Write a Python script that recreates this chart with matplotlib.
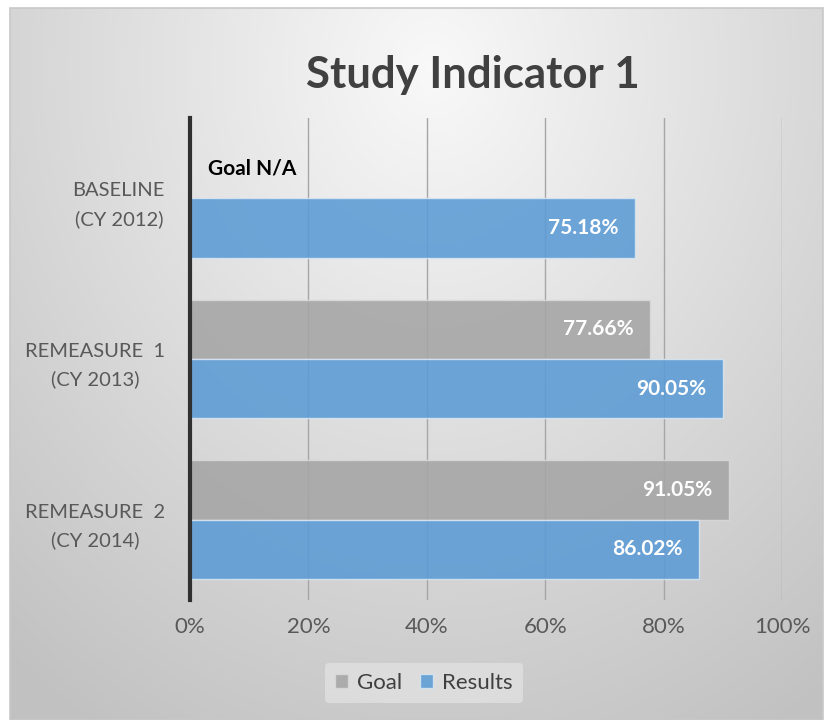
import numpy as np
import matplotlib.pyplot as plt
from matplotlib.patches import Rectangle

plt.rcParams['font.family'] = ['Lato', 'DejaVu Sans']

categories = ['BASELINE\n(CY 2012)', 'REMEASURE  1\n(CY 2013)', 'REMEASURE  2\n(CY 2014)']
goal = [np.nan, 77.66, 91.05]
results = [75.18, 90.05, 86.02]
x_ticks = [0, 20, 40, 60, 80, 100]

fig = plt.figure(figsize=(8.27, 7.2), dpi=100)

# background: radial gradient panel with thin border
bg = fig.add_axes([0, 0, 1, 1], zorder=0)
bg.set_xlim(0, 827)
bg.set_ylim(720, 0)
bg.axis('off')
yy, xx = np.mgrid[0:720, 0:827]
r = np.sqrt(((xx - 430) / 620.0) ** 2 + ((yy - 60) / 720.0) ** 2)
shade = np.clip(0.975 - 0.20 * r, 0.76, 0.975)
img = np.dstack([shade, shade, shade])
bg.imshow(img, extent=[10, 823, 720, 8], aspect='auto', zorder=0)
bg.add_patch(Rectangle((10, 8), 813, 712, fill=False, edgecolor='#c8c8c8', lw=1.2, zorder=1))

ax = fig.add_axes([190 / 827, 1 - 600 / 720, 592 / 827, 482 / 720], zorder=2)
ax.patch.set_alpha(0)

y = np.arange(len(categories))
h = 0.37
gb = ax.barh(y - h / 2, goal, height=h, color='#a5a5a5', alpha=0.88,
             edgecolor='#d9d9d9', lw=1, zorder=3)
rb = ax.barh(y + h / 2, results, height=h, color='#5b9bd5', alpha=0.88,
             edgecolor='#d9e6f2', lw=1, zorder=3)

for bars, vals in ((gb, goal), (rb, results)):
    for b, v in zip(bars, vals):
        if np.isnan(v):
            continue
        ax.text(v - 2.8, b.get_y() + b.get_height() / 2, f'{v:.2f}%', ha='right', va='center',
                color='white', fontsize=15, fontweight='bold', zorder=4)

ax.text(3, -h / 2, 'Goal N/A', ha='left', va='center', fontsize=15,
        fontweight='bold', color='black', zorder=4)

ax.set_xlim(0, 100)
ax.set_ylim(2.5, -0.5)
ax.set_xticks(x_ticks)
ax.set_xticklabels([f'{t}%' for t in x_ticks], fontsize=16)
ax.set_yticks(y)
ax.set_yticklabels(categories, linespacing=1.7, multialignment='center', fontsize=14.5)
ax.tick_params(axis='both', length=0, colors='#595959')
ax.tick_params(axis='x', pad=12)
ax.tick_params(axis='y', pad=18)
ax.grid(axis='x', color='#a6a6a6', lw=1, zorder=1)
for s in ('top', 'right', 'bottom'):
    ax.spines[s].set_visible(False)
ax.spines['left'].set_color('#303030')
ax.spines['left'].set_linewidth(3)
ax.spines['left'].set_zorder(5)

fig.text(473 / 827, 1 - 75 / 720, 'Study Indicator 1', ha='center', va='center',
         fontsize=31.5, fontweight='bold', color='#404040', zorder=3)

leg = fig.legend([gb, rb], ['Goal', 'Results'], loc='center',
                 bbox_to_anchor=(424 / 827, 1 - 683 / 720),
                 ncol=2, frameon=True, fontsize=16, handlelength=0.6, handleheight=0.6,
                 handletextpad=0.4, columnspacing=0.8, borderpad=0.45)
leg.get_frame().set_facecolor('#dedede')
leg.get_frame().set_edgecolor('none')
leg.get_frame().set_alpha(0.9)
leg.set_zorder(6)
for t in leg.get_texts():
    t.set_color('#404040')

fig.savefig('out.png', dpi=100)
